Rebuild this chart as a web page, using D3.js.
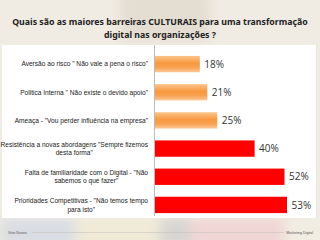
<!DOCTYPE html>
<html><head><meta charset="utf-8">
<script src="https://cdn.jsdelivr.net/npm/d3@7"></script>
<style>html,body{margin:0;padding:0;background:#f1ece3;}svg{display:block;}</style>
</head><body>
<script>
const categories = [
  ["Aversão ao risco  \" Não vale a pena o risco\""],
  ["Politica  Interna \" Não existe o devido apoio\""],
  ["Ameaça - \"Vou perder influência  na empresa\""],
  ["Resistência  a novas abordagens  \"Sempre fizemos", "desta forma\""],
  ["Falta de familiaridade com o Digital - \"Não", "sabemos o que fazer\""],
  ["Prioridades  Competitivas  - \"Não temos tempo", "para isto\""]
];
const values = [18, 21, 25, 40, 52, 53];
const groups = ["orange", "orange", "orange", "red", "red", "red"];
const valueLabels = ["18%", "21%", "25%", "40%", "52%", "53%"];
const titleLines = ["Quais são as maiores barreiras CULTURAIS para uma transformação", "digital nas organizações ?"];
const footerLeft = "Vitor Nunes";
const footerRight = "Marketing Digital";

const W = 320, H = 240;
const svg = d3.select("body").append("svg").attr("width", W).attr("height", H);
const defs = svg.append("defs");

// background blur
const blur = defs.append("filter").attr("id", "blur").attr("x", "-20%").attr("y", "-20%").attr("width", "140%").attr("height", "140%");
blur.append("feGaussianBlur").attr("stdDeviation", 6);
const bg = svg.append("g").attr("filter", "url(#blur)");
bg.append("rect").attr("x", -20).attr("y", -20).attr("width", W + 40).attr("height", H + 40).attr("fill", "#f1ece3");
bg.append("rect").attr("x", 120).attr("y", -10).attr("width", 90).attr("height", 50).attr("fill", "#e4ddd2");
bg.append("rect").attr("x", 0).attr("y", 218).attr("width", 75).attr("height", 30).attr("fill", "#d9dde3");
bg.append("rect").attr("x", 75).attr("y", 218).attr("width", 85).attr("height", 30).attr("fill", "#f0ead7");
bg.append("rect").attr("x", 160).attr("y", 218).attr("width", 30).attr("height", 30).attr("fill", "#d7d5d2");
bg.append("rect").attr("x", 190).attr("y", 218).attr("width", 95).attr("height", 30).attr("fill", "#f0d6d4");
bg.append("rect").attr("x", 285).attr("y", 218).attr("width", 40).attr("height", 30).attr("fill", "#f2ede2");

// panel
svg.append("rect").attr("x", 2).attr("y", 45).attr("width", 314).attr("height", 173).attr("fill", "#ffffff");
svg.append("line").attr("x1", 316.5).attr("x2", 316.5).attr("y1", 45).attr("y2", 218).attr("stroke", "#e6e6e6");

// title
const titles = svg.append("g").selectAll("text").data(titleLines).join("text")
  .attr("x", 160).attr("y", (d, i) => 25 + i * 13)
  .attr("text-anchor", "middle")
  .attr("font-family", "'Noto Sans', 'Open Sans', sans-serif")
  .attr("font-weight", "bold").attr("font-size", 9).attr("fill", "#222")
  .text(d => d);
const t0 = titles.nodes()[0].getComputedTextLength();
titles.attr("font-size", 9 * 296 / t0);

// gradients
const og = defs.append("linearGradient").attr("id", "gOrange").attr("x1", 0).attr("x2", 0).attr("y1", 0).attr("y2", 1);
og.append("stop").attr("offset", "0%").attr("stop-color", "#fcc48c");
og.append("stop").attr("offset", "45%").attr("stop-color", "#f8993f");
og.append("stop").attr("offset", "70%").attr("stop-color", "#f8a151");
og.append("stop").attr("offset", "100%").attr("stop-color", "#fcc898");

const x = d3.scaleLinear().domain([0, 53]).range([155, 287]);
const y = d3.scaleBand().domain(d3.range(values.length)).range([50, 219]).paddingInner(0.42).paddingOuter(0.21);

const bars = svg.append("g");
bars.selectAll("rect").data(values).join("rect")
  .attr("x", x(0)).attr("y", (d, i) => y(i))
  .attr("width", d => x(d) - x(0)).attr("height", y.bandwidth())
  .attr("fill", (d, i) => groups[i] === "orange" ? "url(#gOrange)" : "#ff0000");

// axis line
svg.append("line").attr("x1", x(0) - 0.5).attr("x2", x(0) - 0.5).attr("y1", 45).attr("y2", 216).attr("stroke", "#aaaaaa").attr("stroke-width", 0.8);

// value labels
svg.append("g").selectAll("text").data(values).join("text")
  .attr("x", d => x(d) + 4.5).attr("y", (d, i) => y(i) + y.bandwidth() / 2)
  .attr("dy", "0.36em")
  .attr("font-family", "'Open Sans', 'Noto Sans', sans-serif")
  .attr("font-size", 10).attr("fill", "#333")
  .text((d, i) => valueLabels[i]);

// category labels
const labG = svg.append("g");
const rightEdge = 148;
const lineH = 8.6;
categories.forEach((lines, i) => {
  const cy = y(i) + y.bandwidth() / 2;
  const g = labG.append("g");
  const texts = g.selectAll("text").data(lines).join("text")
    .attr("font-family", "'Liberation Sans', Arial, sans-serif")
    .attr("font-size", 6.6).attr("fill", "#222")
    .attr("y", (d, j) => cy + (j - (lines.length - 1) / 2) * lineH)
    .attr("dy", "0.35em")
    .text(d => d);
  let maxW = 0;
  texts.each(function () { maxW = Math.max(maxW, this.getComputedTextLength()); });
  if (lines.length === 1) {
    texts.attr("x", rightEdge).attr("text-anchor", "end");
  } else {
    texts.attr("x", rightEdge - maxW / 2).attr("text-anchor", "middle");
  }
});

// footer
svg.append("line").attr("x1", 32).attr("x2", 284).attr("y1", 232.5).attr("y2", 232.5).attr("stroke", "#c8c4bd").attr("stroke-width", 0.6);
svg.append("text").attr("x", 8).attr("y", 234).attr("font-family", "'Liberation Sans', Arial, sans-serif").attr("font-size", 3.6).attr("fill", "#555").text(footerLeft);
svg.append("text").attr("x", 313).attr("y", 234).attr("text-anchor", "end").attr("font-family", "'Liberation Sans', Arial, sans-serif").attr("font-size", 3.6).attr("fill", "#555").text(footerRight);
</script>
</body></html>
